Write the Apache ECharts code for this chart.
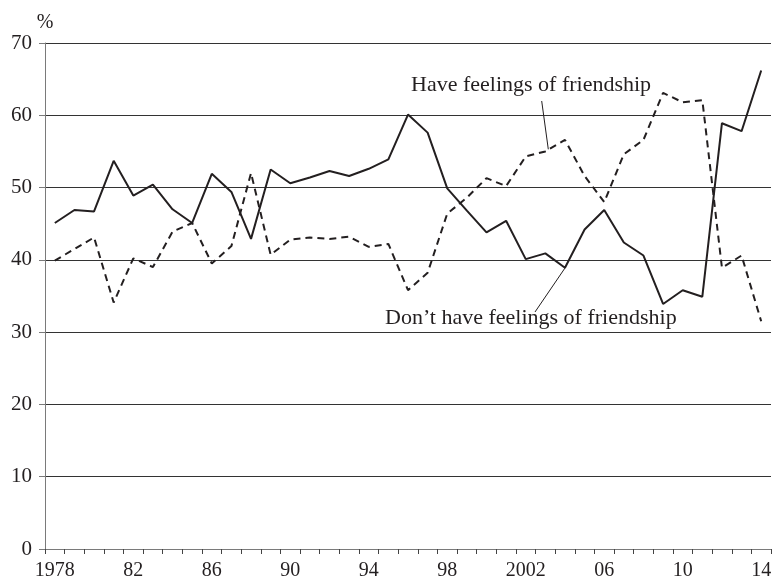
<!DOCTYPE html>
<html>
<head>
<meta charset="utf-8">
<script src="https://cdn.jsdelivr.net/npm/echarts@6/dist/echarts.min.js"></script>
<style>
html,body{margin:0;padding:0;background:#fff;}
#chart{width:776px;height:581px;}
</style>
</head>
<body>
<div id="chart"></div>
<script>
// Years (categories)
var years = ['1978','1979','1980','1981','1982','1983','1984','1985','1986','1987','1988','1989',
  '1990','1991','1992','1993','1994','1995','1996','1997','1998','1999','2000','2001','2002',
  '2003','2004','2005','2006','2007','2008','2009','2010','2011','2012','2013','2014'];
// Tick labels shown on the x axis
var xTickLabels = {'1978':'1978','1982':'82','1986':'86','1990':'90','1994':'94','1998':'98',
  '2002':'2002','2006':'06','2010':'10','2014':'14'};
// Have feelings of friendship (dashed)
var haveFeelings = [39.9,41.5,43.1,34.1,40.2,39.0,43.9,45.1,39.5,41.9,52.0,40.7,
  42.8,43.1,42.9,43.2,41.8,42.2,35.8,38.2,46.4,48.6,51.3,50.2,54.3,
  55.0,56.6,51.6,48.0,54.6,56.6,63.1,61.8,62.1,38.9,40.6,31.5];
// Don't have feelings of friendship (solid)
var dontHaveFeelings = [45.1,46.9,46.7,53.7,48.9,50.4,47.0,45.1,51.9,49.4,42.9,52.5,
  50.6,51.4,52.3,51.6,52.6,53.9,60.1,57.6,49.9,46.8,43.8,45.4,40.1,
  40.9,38.9,44.2,46.9,42.4,40.6,33.9,35.8,34.9,58.9,57.8,66.2];
var yMin = 0, yMax = 70, yStep = 10;
var labelHave = 'Have feelings of friendship';
var labelDont = 'Don\u2019t have feelings of friendship';

var FONT = '"Liberation Serif","DejaVu Serif",serif';
var INK = '#231f20';
var chart = echarts.init(document.getElementById('chart'), null, {renderer:'canvas'});
chart.setOption({
  animation: false,
  backgroundColor: '#fff',
  grid: {left: 45, right: 5, top: 43, bottom: 31},
  xAxis: {
    type: 'category',
    data: years,
    boundaryGap: true,
    axisLine: {lineStyle: {color: '#7a7a7a', width: 1}},
    axisTick: {show: true, interval: 0, length: 5, lineStyle: {color: '#444'}},
    axisLabel: {
      interval: 3, margin: 12, color: INK, fontFamily: FONT, fontSize: 20,
      formatter: function (v) { return xTickLabels[v] || ''; }
    },
    splitLine: {show: false}
  },
  yAxis: {
    type: 'value',
    min: yMin, max: yMax, interval: yStep,
    name: '%',
    nameLocation: 'end',
    nameGap: 10,
    nameTextStyle: {color: INK, fontFamily: FONT, fontSize: 20, align: 'center'},
    axisLine: {show: true, lineStyle: {color: '#7a7a7a', width: 1}},
    axisTick: {show: true, length: 6, lineStyle: {color: '#7a7a7a'}},
    axisLabel: {margin: 13, color: INK, fontFamily: FONT, fontSize: 21, padding: [3, 0, 0, 0]},
    splitLine: {show: true, lineStyle: {color: '#333', width: 1}}
  },
  series: [
    {
      name: labelDont, type: 'line', data: dontHaveFeelings,
      symbol: 'none', smooth: false,
      lineStyle: {color: INK, width: 2, type: 'solid'}, z: 3
    },
    {
      name: labelHave, type: 'line', data: haveFeelings,
      symbol: 'none', smooth: false,
      lineStyle: {color: INK, width: 2, type: [7, 5]}, z: 3
    }
  ],
  graphic: [
    {type: 'text', left: 411, top: 74, z: 10,
      style: {text: labelHave, fill: INK, font: '22px ' + FONT}},
    {type: 'text', left: 385, top: 307, z: 10,
      style: {text: labelDont, fill: INK, font: '22px ' + FONT}},
    {type: 'line', z: 10, shape: {x1: 541.7, y1: 101, x2: 548.3, y2: 149.3},
      style: {stroke: INK, lineWidth: 1}},
    {type: 'line', z: 10, shape: {x1: 535, y1: 312, x2: 565, y2: 268},
      style: {stroke: INK, lineWidth: 1}}
  ]
});
</script>
</body>
</html>
